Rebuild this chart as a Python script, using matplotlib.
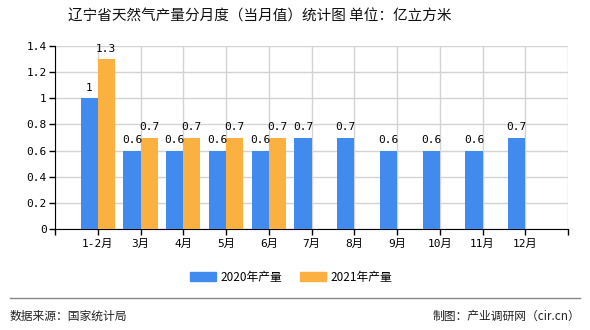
import matplotlib
matplotlib.use("Agg")
import matplotlib.pyplot as plt
from matplotlib.patches import Patch
from matplotlib.lines import Line2D
import numpy as np

plt.rcParams['font.family'] = ['Noto Sans CJK SC', 'DejaVu Sans']

categories = ["1-2月", "3月", "4月", "5月", "6月", "7月", "8月", "9月", "10月", "11月", "12月"]
values_2020 = [1.0, 0.6, 0.6, 0.6, 0.6, 0.7, 0.7, 0.6, 0.6, 0.6, 0.7]
values_2021 = [1.3, 0.7, 0.7, 0.7, 0.7]
series_names = ["2020年产量", "2021年产量"]
title = "辽宁省天然气产量分月度（当月值）统计图 单位：亿立方米"
source = "数据来源：国家统计局"
credit = "制图：产业调研网（cir.cn）"

blue = "#418bee"
orange = "#fbb13f"
mono = ['DejaVu Sans Mono', 'Noto Sans CJK SC']

fig = plt.figure(figsize=(5.9, 3.3), dpi=100)
ax = fig.add_axes([55/590, 1-229/330, (568-55)/590, (229-46)/330])

x = np.arange(len(categories))
w = 0.4
b1 = ax.bar(x[:len(values_2020)] - w/2, values_2020, width=w, color=blue, zorder=3)
b2 = ax.bar(x[:len(values_2021)] + w/2, values_2021, width=w, color=orange, zorder=3)

for bars, vals in ((b1, values_2020), (b2, values_2021)):
    for rect, v in zip(bars, vals):
        ax.annotate(f"{v:g}", (rect.get_x() + rect.get_width()/2, v), xytext=(0, 4),
                    textcoords="offset points", ha="center", va="bottom", fontsize=8,
                    family=mono)

ax.set_xlim(-1, len(categories))
ax.set_ylim(0, 1.4)
ax.set_xticks(np.arange(-1, len(categories) + 1))
ax.set_xticklabels([""] + categories + [""], fontsize=8, family=mono)
yt = np.round(np.arange(0, 1.41, 0.2), 1)
ax.set_yticks(yt)
ax.set_yticklabels([f"{v:g}" for v in yt], fontsize=8, family=mono)
ax.grid(True, color="#d3d3d3", linewidth=1, zorder=0)
ax.set_axisbelow(True)
for s in ["top", "right"]:
    ax.spines[s].set_visible(False)
ax.spines["left"].set_color("black")
ax.spines["bottom"].set_color("black")
ax.tick_params(axis="both", length=4, width=1, color="black", pad=2)
ax.tick_params(axis="x", pad=3)

fig.text(260/590, 1-17/330, title, ha="center", va="center", fontsize=10.5, color="#111111")

handles = [Patch(color=blue), Patch(color=orange)]
fig.legend(handles, series_names, loc="center", bbox_to_anchor=(291/590, 1-277/330), ncol=2,
           frameon=False, fontsize=8.5, handlelength=2.2, handleheight=0.8, columnspacing=1.5,
           handletextpad=0.4)

fig.add_artist(Line2D([10/590, 580/590], [1-298/330, 1-298/330], color="#888888", linewidth=1))
fig.text(10/590, 1-316/330, source, ha="left", va="center", fontsize=8.5, color="#222222")
fig.text(580/590, 1-316/330, credit, ha="right", va="center", fontsize=8.5, color="#222222")

fig.savefig("out.png", dpi=100)
